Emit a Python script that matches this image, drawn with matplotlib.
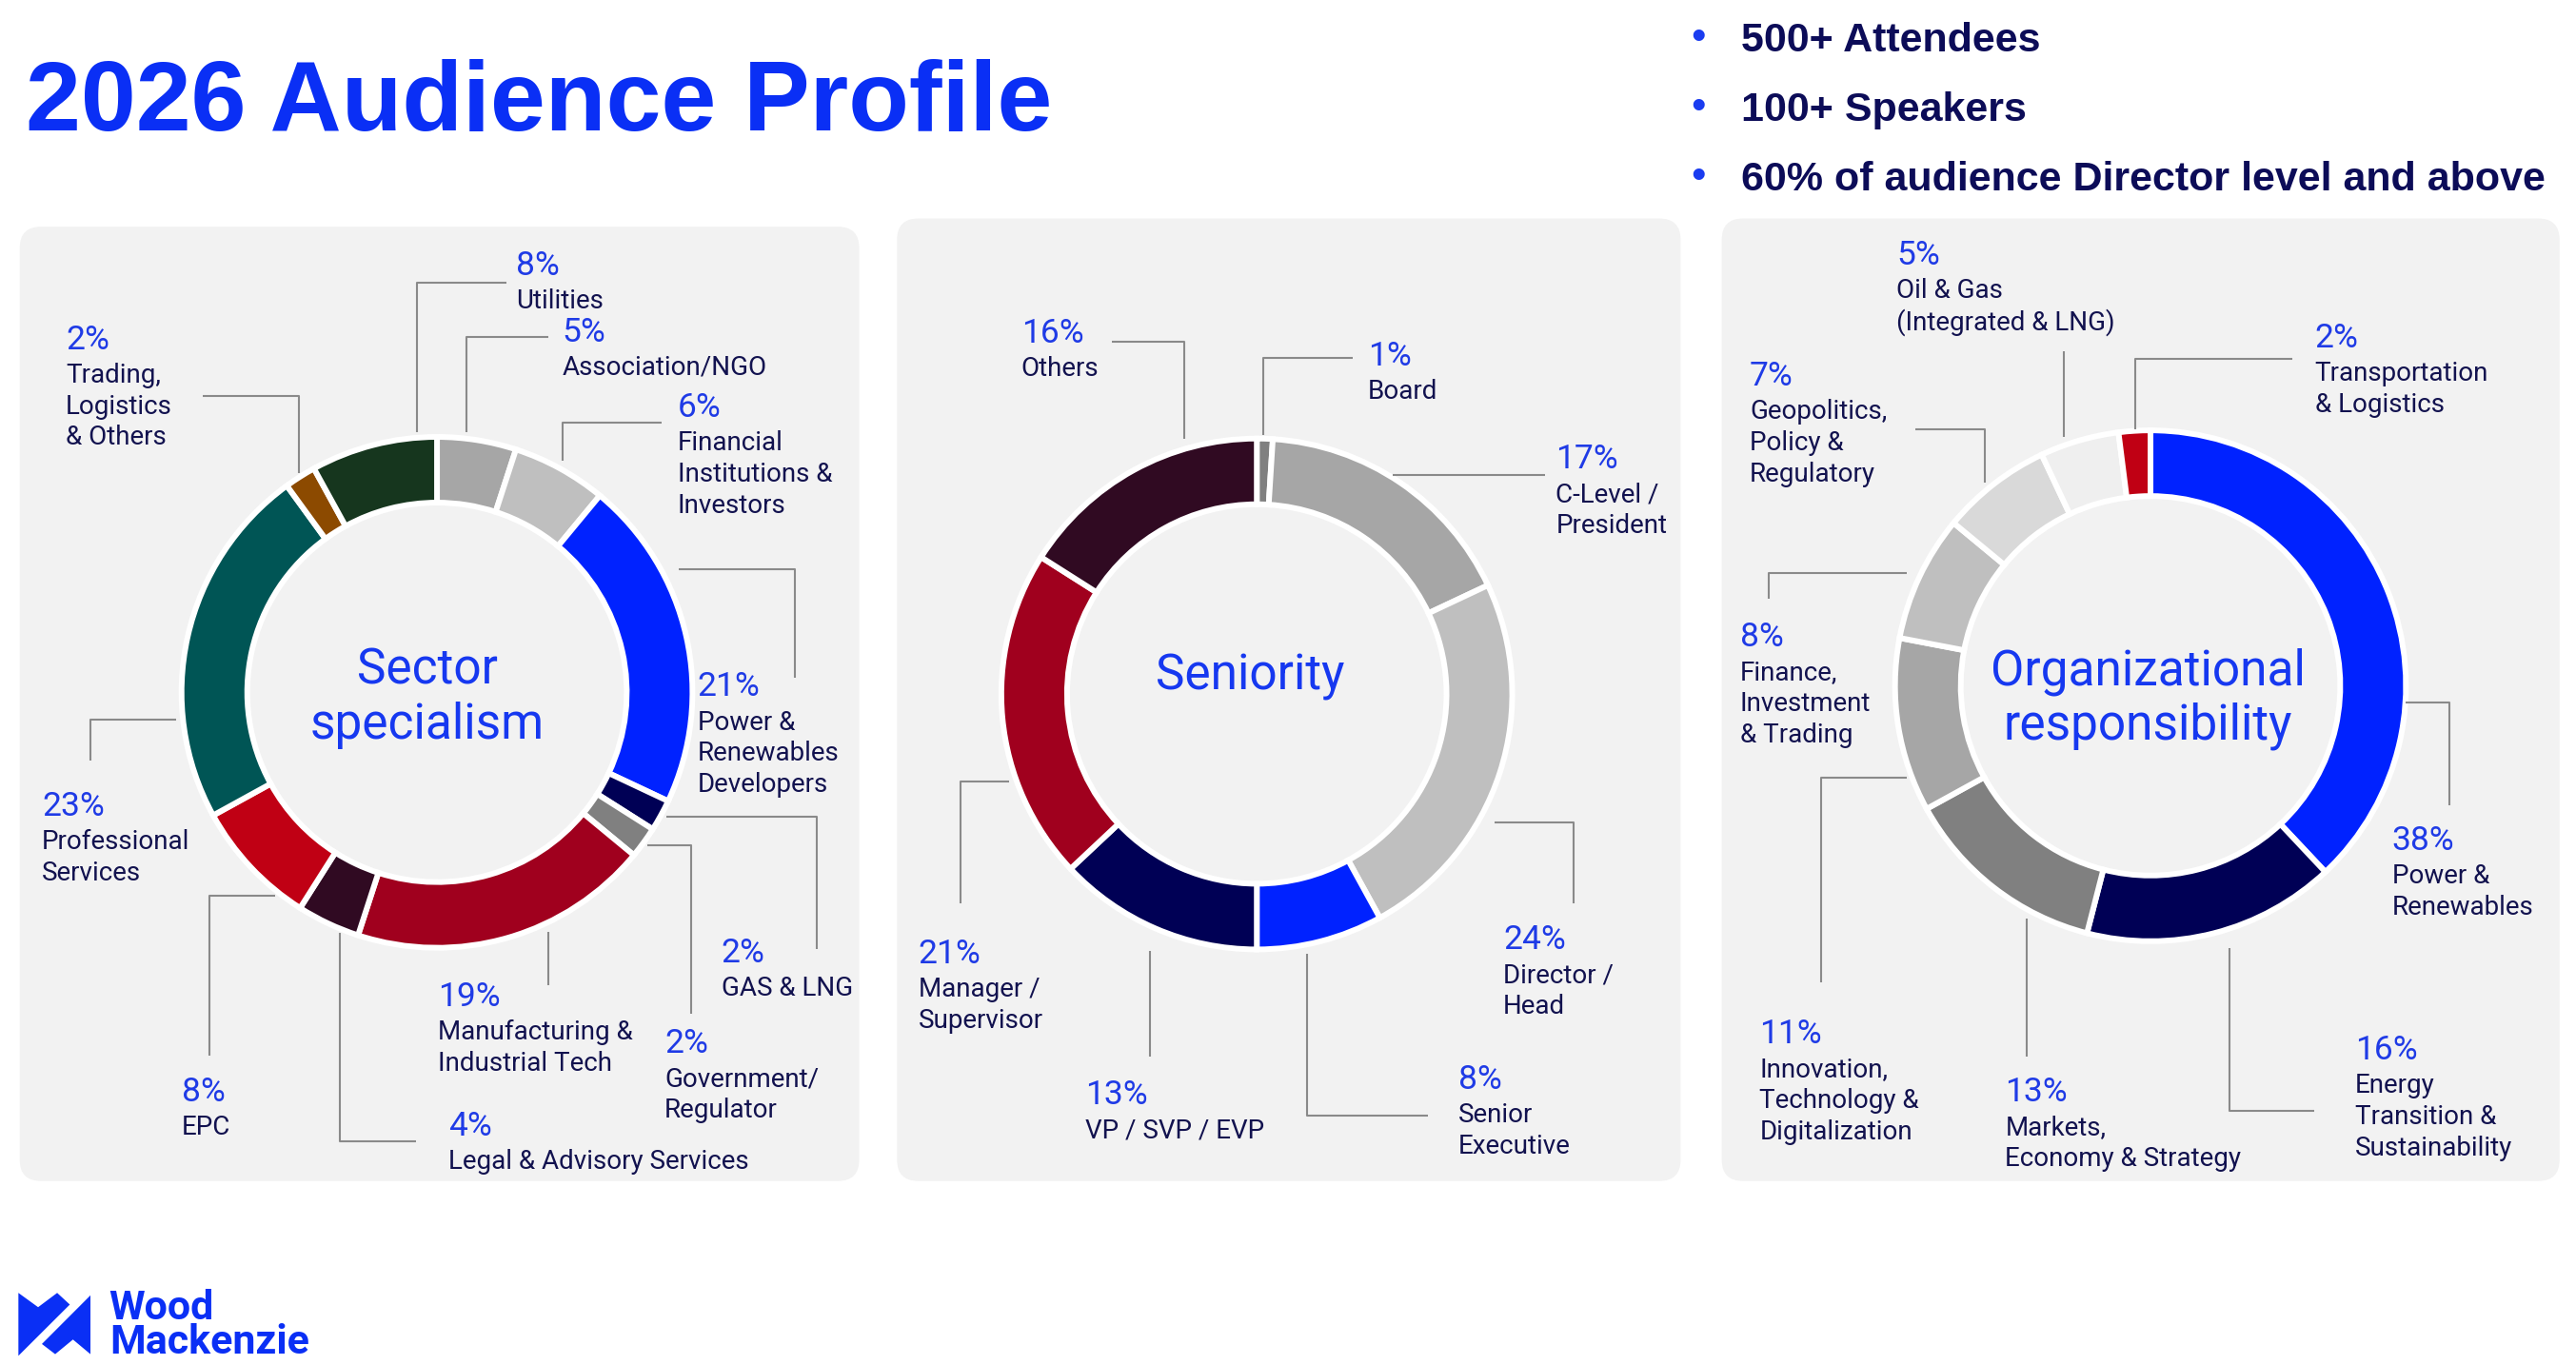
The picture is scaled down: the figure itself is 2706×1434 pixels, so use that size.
import matplotlib
matplotlib.use("Agg")
import matplotlib.pyplot as plt
from matplotlib.patches import FancyBboxPatch, Polygon

# ---------------- layout units: reference thumbnail pixels ----------------
W, H = 1568, 831

# ---------------- data ----------------
sector_cats = ["Association/NGO", "Financial Institutions & Investors",
               "Power & Renewables Developers", "GAS & LNG", "Government/Regulator",
               "Manufacturing & Industrial Tech", "Legal & Advisory Services", "EPC",
               "Professional Services", "Trading, Logistics & Others", "Utilities"]
sector_vals = [5, 6, 21, 2, 2, 19, 4, 8, 23, 2, 8]
sector_text = ["Association/NGO", "Financial\nInstitutions &\nInvestors",
               "Power &\nRenewables\nDevelopers", "GAS & LNG", "Government/\nRegulator",
               "Manufacturing &\nIndustrial Tech", "Legal & Advisory Services", "EPC",
               "Professional\nServices", "Trading,\nLogistics\n& Others", "Utilities"]
sector_colors = ["#a6a6a6", "#bfbfbf", "#0022ff", "#000055", "#808080", "#a0001e",
                 "#300a22", "#c00014", "#005555", "#8c4a00", "#16361e"]

seniority_cats = ["Board", "C-Level / President", "Director / Head", "Senior Executive",
                  "VP / SVP / EVP", "Manager / Supervisor", "Others"]
seniority_vals = [1, 17, 24, 8, 13, 21, 16]
seniority_text = ["Board", "C-Level /\nPresident", "Director /\nHead", "Senior\nExecutive",
                  "VP / SVP / EVP", "Manager /\nSupervisor", "Others"]
seniority_colors = ["#808080", "#a6a6a6", "#bfbfbf", "#0022ff", "#000055", "#a0001e", "#300a22"]

org_cats = ["Power & Renewables", "Energy Transition & Sustainability",
            "Markets, Economy & Strategy", "Innovation, Technology & Digitalization",
            "Finance, Investment & Trading", "Geopolitics, Policy & Regulatory",
            "Oil & Gas (Integrated & LNG)", "Transportation & Logistics"]
org_vals = [38, 16, 13, 11, 8, 7, 5, 2]
org_text = ["Power &\nRenewables", "Energy\nTransition &\nSustainability",
            "Markets,\nEconomy & Strategy", "Innovation,\nTechnology &\nDigitalization",
            "Finance,\nInvestment\n& Trading", "Geopolitics,\nPolicy &\nRegulatory",
            "Oil & Gas\n(Integrated & LNG)", "Transportation\n& Logistics"]
org_colors = ["#0022ff", "#000055", "#808080", "#a6a6a6", "#bfbfbf", "#d9d9d9", "#efefef", "#c00014"]

title = "2026 Audience Profile"
bullets = ["500+ Attendees", "100+ Speakers", "60% of audience Director level and above"]

# ---------------- layout (positions only) ----------------
charts = [
    dict(vals=sector_vals, text=sector_text, colors=sector_colors,
         center=(266, 421.5), panel=(12, 138, 511, 581),
         title=["Sector", "specialism"], title_pos=(260, 416.3),
         label_pos=[(342, 207.8), (412.5, 253.7), (424.5, 423.9), (439, 585.7), (404.5, 641.2),
                    (266.5, 612.5), (273, 691.6), (110.5, 670.6), (25.5, 496.6), (40, 212.4),
                    (314, 167.7)],
         leaders=[[(284, 263), (284, 205.1), (334, 205.1)],
                  [(342.5, 280.5), (342.5, 257.5), (403, 257.5)],
                  [(413, 346.3), (484, 346.3), (484, 412.4)],
                  [(405.7, 497), (497, 497), (497, 578)],
                  [(393.8, 514.5), (420.9, 514.5), (420.9, 617)],
                  [(334, 567.3), (334, 599.8)],
                  [(206.9, 568), (206.9, 694.7), (253.5, 694.7)],
                  [(167.3, 545.5), (127.5, 545.5), (127.5, 642.7)],
                  [(107.2, 438.1), (55.1, 438.1), (55.1, 463.3)],
                  [(123.4, 241.1), (181.9, 241.1), (181.9, 288.1)],
                  [(253.9, 263), (253.9, 172.2), (308.3, 172.2)]]),
    dict(vals=seniority_vals, text=seniority_text, colors=seniority_colors,
         center=(765, 422.5), panel=(546, 133, 477, 586),
         title=["Seniority"], title_pos=(761, 420),
         label_pos=[(832.5, 222.4), (947, 285.1), (915, 578), (887.5, 663), (660.5, 672.5),
                    (559, 586.5), (621.5, 208.6)],
         leaders=[[(769, 265), (769, 218), (823.5, 218)],
                  [(847.8, 289.3), (940.5, 289.3)],
                  [(909.6, 500.4), (957.6, 500.4), (957.6, 550.1)],
                  [(795.7, 580.7), (795.7, 679.4), (869, 679.4)],
                  [(700.2, 578.8), (700.2, 643.1)],
                  [(614.4, 475.9), (584.5, 475.9), (584.5, 550.1)],
                  [(676.8, 207.8), (721.1, 207.8), (721.1, 267.1)]]),
    dict(vals=org_vals, text=org_text, colors=org_colors,
         center=(1309, 417.5), panel=(1048, 133, 510, 586),
         title=["Organizational", "responsibility"], title_pos=(1307.5, 417),
         label_pos=[(1456, 517.6), (1433.5, 645), (1220.5, 670.6), (1071, 635.4), (1059, 393.3),
                    (1065, 234.6), (1154.5, 161.2), (1409, 211.6)],
         leaders=[[(1464.3, 427.7), (1491.2, 427.7), (1491.2, 490.1)],
                  [(1356.9, 576.9), (1356.9, 676.3), (1408.7, 676.3)],
                  [(1233.8, 559), (1233.8, 643.1)],
                  [(1160.8, 473.6), (1108.6, 473.6), (1108.6, 598)],
                  [(1160.8, 348.6), (1076.6, 348.6), (1076.6, 364.6)],
                  [(1165.8, 261.4), (1207.9, 261.4), (1207.9, 293.9)],
                  [(1256, 213.6), (1256, 266)],
                  [(1299.7, 261.4), (1299.7, 218.5), (1395.3, 218.5)]]),
]

R_OUT = 155.5
RING_W = 40
PANEL_BG = "#f2f2f2"
PCT_COLOR = "#1f3be6"
LABEL_COLOR = "#12124f"
CENTER_COLOR = "#1638f0"
LEADER_COLOR = "#8a8a8a"
NAVY = "#0c0c58"
BLUE = "#0a2ff5"

LABEL_FONT = ["Roboto", "DejaVu Sans"]
TITLE_FONT = ["Liberation Sans", "DejaVu Sans"]

fig = plt.figure(figsize=(27.06, 14.34), dpi=100)
ax = fig.add_axes([0, 0, 1, 1])

for ch in charts:
    px, py, pw, ph = ch["panel"]
    ax.add_patch(FancyBboxPatch((px, py), pw, ph, boxstyle="round,pad=0,rounding_size=13",
                                facecolor=PANEL_BG, edgecolor="none", zorder=0))
    ax.pie(ch["vals"], colors=ch["colors"], startangle=-90, counterclock=True,
           radius=R_OUT, center=ch["center"], frame=True,
           wedgeprops=dict(width=RING_W, edgecolor="white", linewidth=4.3))
    for pts in ch["leaders"]:
        xs = [p[0] for p in pts]
        ys = [p[1] for p in pts]
        ax.plot(xs, ys, color=LEADER_COLOR, lw=1.5, solid_capstyle="butt", zorder=2)
    for v, txt, (lx, ly) in zip(ch["vals"], ch["text"], ch["label_pos"]):
        ax.text(lx, ly, f"{v}%", fontsize=25.5, color=PCT_COLOR, family=LABEL_FONT,
                ha="left", va="baseline", zorder=3)
        for i, line in enumerate(txt.split("\n")):
            ax.text(lx, ly + 20.3 + 19.1 * i, line, fontsize=20, color=LABEL_COLOR,
                    family=LABEL_FONT, ha="left", va="baseline", zorder=3)
    tx, ty = ch["title_pos"]
    for i, line in enumerate(ch["title"]):
        ax.text(tx, ty + 33.2 * i, line, fontsize=37, color=CENTER_COLOR, family=LABEL_FONT,
                ha="center", va="baseline", zorder=3)

# title
ax.text(15.4, 79.4, title, fontsize=75, fontweight="bold", color=BLUE, family=TITLE_FONT,
        ha="left", va="baseline")

# bullets
for i, b in enumerate(bullets):
    yb = 31.5 + 42.2 * i
    ax.text(1033.7, yb - 1.3, "\u2022", fontsize=32, color="#1a3cf0", family=TITLE_FONT,
            ha="center", va="baseline")
    ax.text(1060.0, yb, b, fontsize=31, fontweight="bold", color=NAVY, family=TITLE_FONT,
            ha="left", va="baseline")

# logo
ax.add_patch(Polygon([(11.2, 787.1), (23.2, 795.8), (34.8, 787.1), (42.5, 794.2), (11.2, 825.4)],
                     closed=True, facecolor=BLUE, edgecolor="none"))
ax.add_patch(Polygon([(25.5, 818.2), (55.05, 788.6), (55.05, 824.4), (44.4, 815.5), (33.6, 824.4)],
                     closed=True, facecolor=BLUE, edgecolor="none"))
ax.text(66.5, 803.1, "Wood", fontsize=31, fontweight="bold", color=BLUE, family=LABEL_FONT,
        ha="left", va="baseline")
ax.text(66.5, 824.0, "Mackenzie", fontsize=31, fontweight="bold", color=BLUE, family=LABEL_FONT,
        ha="left", va="baseline")

ax.set_xlim(0, W)
ax.set_ylim(H, 0)
ax.set_aspect("auto")
ax.axis("off")
fig.savefig("out.png", dpi=100, facecolor="white")
